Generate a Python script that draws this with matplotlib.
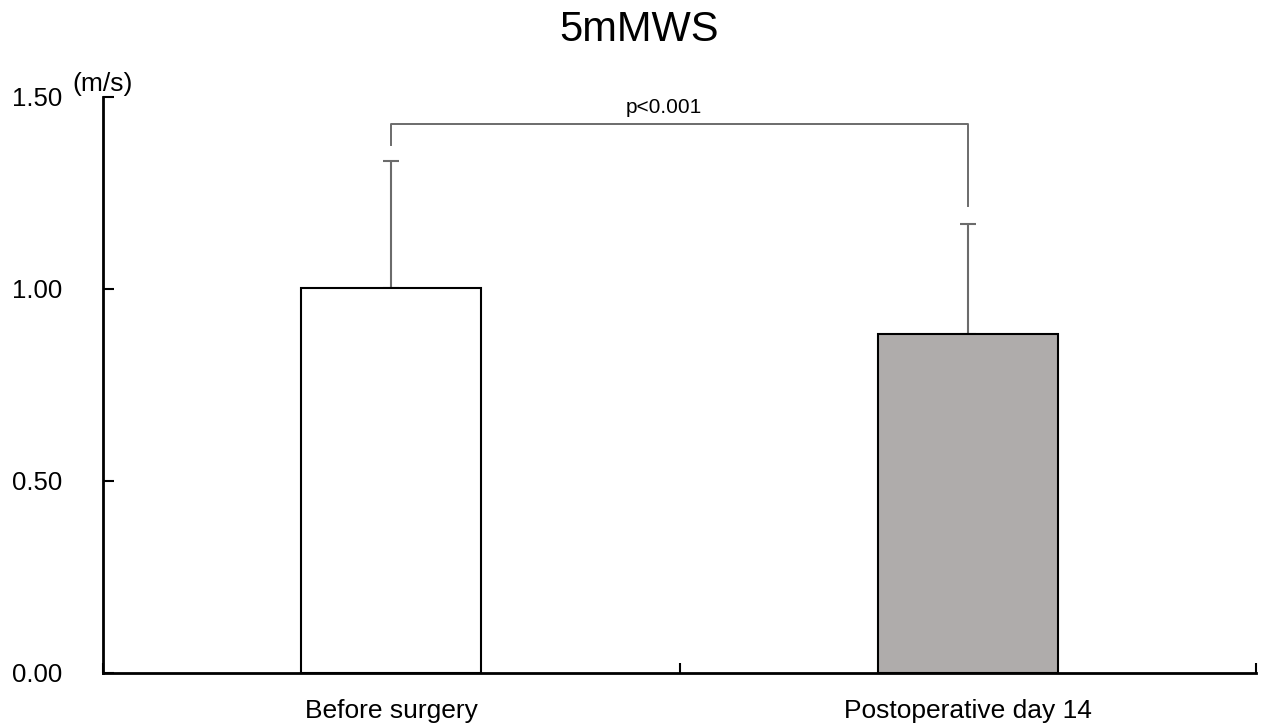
import matplotlib
matplotlib.use("Agg")
import matplotlib.pyplot as plt

plt.rcParams['font.family'] = ['Liberation Sans', 'DejaVu Sans']

categories = ["Before surgery", "Postoperative day 14"]
means = [1.003, 0.883]
sds = [0.330, 0.286]
bar_colors = ["#ffffff", "#afacab"]
title = "5mMWS"
unit = "(m/s)"
p_label = "p<0.001"
yticks = [0.0, 0.5, 1.0, 1.5]
ytick_labels = ["0.00", "0.50", "1.00", "1.50"]

W, H = 1263, 727
fig = plt.figure(figsize=(W / 100, H / 100), dpi=100)
ax = fig.add_axes([103 / W, (H - 673) / H, 1153 / W, (673 - 97) / H])

xpos = [0.5, 1.5]
ax.bar(xpos, means, width=0.3125, color=bar_colors, edgecolor="black",
       linewidth=1.5, zorder=3)
ax.errorbar(xpos, means, yerr=[[0, 0], sds], fmt="none", ecolor="#6b6b6b",
            elinewidth=1.5, capsize=6, capthick=1.5, zorder=2)

# significance bracket
by = 1.43
ax.plot([0.5, 0.5, 1.5, 1.5], [1.375, by, by, 1.215], color="#6b6b6b",
        linewidth=1.4, zorder=2, clip_on=False)
ax.text(0.973, 1.458, p_label, ha="center", va="baseline", fontsize=15)

ax.set_xlim(0, 2)
ax.set_ylim(0, 1.5)
for s in ["top", "right"]:
    ax.spines[s].set_visible(False)
for s in ["left", "bottom"]:
    ax.spines[s].set_linewidth(2)

ax.set_yticks(yticks)
ax.set_yticklabels(ytick_labels, fontsize=18.5)
ax.tick_params(axis="y", direction="in", length=8, width=1.5, pad=29)

ax.set_xticks([0, 1, 2])
ax.set_xticklabels(["", "", ""])
ax.tick_params(axis="x", which="major", direction="in", length=7, width=1.5)
ax.set_xticks(xpos, minor=True)
ax.set_xticklabels(categories, minor=True, fontsize=19)
ax.tick_params(axis="x", which="minor", length=0, pad=19)

ax.text(0.0, 1.516, unit, ha="center", va="baseline", fontsize=19, clip_on=False)
fig.text(639 / W, 1 - 41 / H, title, ha="center", va="baseline", fontsize=30)

fig.savefig("out.png", dpi=100)
